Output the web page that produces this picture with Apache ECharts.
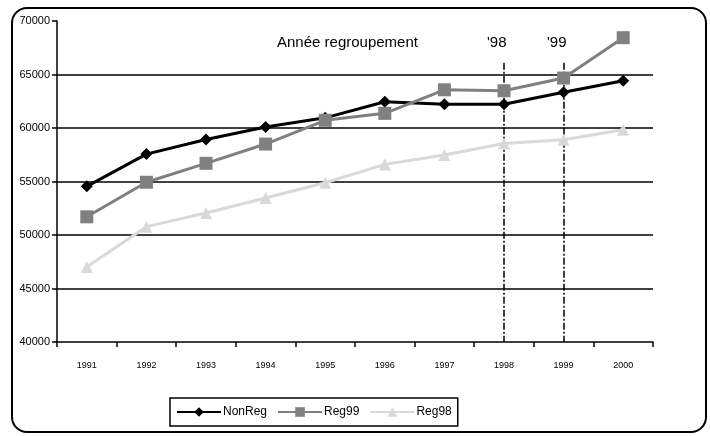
<!DOCTYPE html>
<html>
<head>
<meta charset="utf-8">
<script src="https://cdn.jsdelivr.net/npm/echarts@6/dist/echarts.min.js"></script>
<style>
  html, body { margin: 0; padding: 0; background: #fff; }
  #chart { width: 710px; height: 436px; }
</style>
</head>
<body>
<div id="chart"></div>
<script>
// Years on the horizontal axis
var years = ['1991', '1992', '1993', '1994', '1995', '1996', '1997', '1998', '1999', '2000'];

// Series values
var nonReg = [54550, 57560, 58920, 60100, 60950, 62450, 62220, 62220, 63350, 64420];
var reg99  = [51700, 54930, 56700, 58500, 60720, 61370, 63570, 63480, 64670, 68440];
var reg98  = [47000, 50780, 52050, 53460, 54880, 56600, 57480, 58550, 58900, 59840];

// Horizontal reference levels and the years where grouping happened
var gridLevels = [45000, 50000, 55000, 60000, 65000];
var groupingYears = ['1998', '1999'];
var groupingLabels = ["'98", "'99"];

var FONT = '"Liberation Sans", Arial, sans-serif';

var chart = echarts.init(document.getElementById('chart'), null, { renderer: 'canvas' });

var refLines = gridLevels.map(function (v) { return { yAxis: v }; });
var yearLines = groupingYears.map(function (y) {
  return [{ coord: [y, 66100] }, { coord: [y, 40000] }];
});

chart.setOption({
  animation: false,
  backgroundColor: '#fff',
  textStyle: { fontFamily: FONT },
  graphic: [
    {
      type: 'rect', z: -10,
      shape: { x: 12, y: 8, width: 694, height: 424, r: 15 },
      style: { fill: '#fff', stroke: '#000', lineWidth: 2 }
    },
    {
      type: 'text', left: 277, top: 35,
      style: { text: 'Année regroupement', font: '15px ' + FONT, fill: '#000' }
    },
    {
      type: 'text', left: 487, top: 35,
      style: { text: groupingLabels[0], font: '15px ' + FONT, fill: '#000' }
    },
    {
      type: 'text', left: 547, top: 35,
      style: { text: groupingLabels[1], font: '15px ' + FONT, fill: '#000' }
    }
  ],
  grid: { left: 57, right: 57, top: 21, bottom: 94, containLabel: false },
  legend: {
    left: 170, top: 398,
    itemWidth: 44, itemHeight: 12, itemGap: 10,
    padding: [8, 6],
    borderColor: '#000', borderWidth: 1.5, borderRadius: 0,
    textStyle: { fontSize: 12, color: '#000', fontFamily: FONT, padding: [0, 0, 0, -3] },
    data: ['NonReg', 'Reg99', 'Reg98']
  },
  xAxis: {
    type: 'category',
    data: years,
    boundaryGap: true,
    axisLine: { lineStyle: { color: '#000', width: 1.5 } },
    axisTick: { show: true, length: 5, lineStyle: { color: '#000', width: 1.5 } },
    axisLabel: { color: '#000', fontSize: 9, margin: 19, fontFamily: FONT }
  },
  yAxis: {
    type: 'value',
    min: 40000, max: 70000, interval: 5000,
    axisLine: { show: true, lineStyle: { color: '#000', width: 1.5 } },
    axisTick: { show: true, length: 5, lineStyle: { color: '#000', width: 1.5 } },
    axisLabel: {
      color: '#000', fontSize: 11, margin: 7, fontFamily: FONT,
      formatter: function (v) { return String(v); }
    },
    splitLine: { show: false }
  },
  series: [
    {
      name: 'NonReg', type: 'line', data: nonReg,
      symbol: 'diamond', symbolSize: 12,
      lineStyle: { color: '#000', width: 3 },
      itemStyle: { color: '#000' },
      z: 3,
      markLine: {
        silent: true, symbol: 'none', label: { show: false },
        lineStyle: { color: '#000', width: 1.5, type: 'solid' },
        data: refLines,
        z: 1
      }
    },
    {
      name: 'Reg99', type: 'line', data: reg99,
      symbol: 'rect', symbolSize: 13,
      lineStyle: { color: '#808080', width: 3 },
      itemStyle: { color: '#808080' },
      z: 4,
      markLine: {
        silent: true, symbol: 'none', label: { show: false },
        lineStyle: { color: '#000', width: 1.5, type: [7, 2, 2, 2] },
        data: yearLines,
        z: 2
      }
    },
    {
      name: 'Reg98', type: 'line', data: reg98,
      symbol: 'triangle', symbolSize: 12,
      lineStyle: { color: '#d9d9d9', width: 3 },
      itemStyle: { color: '#d9d9d9' },
      z: 2
    }
  ]
});
</script>
</body>
</html>
